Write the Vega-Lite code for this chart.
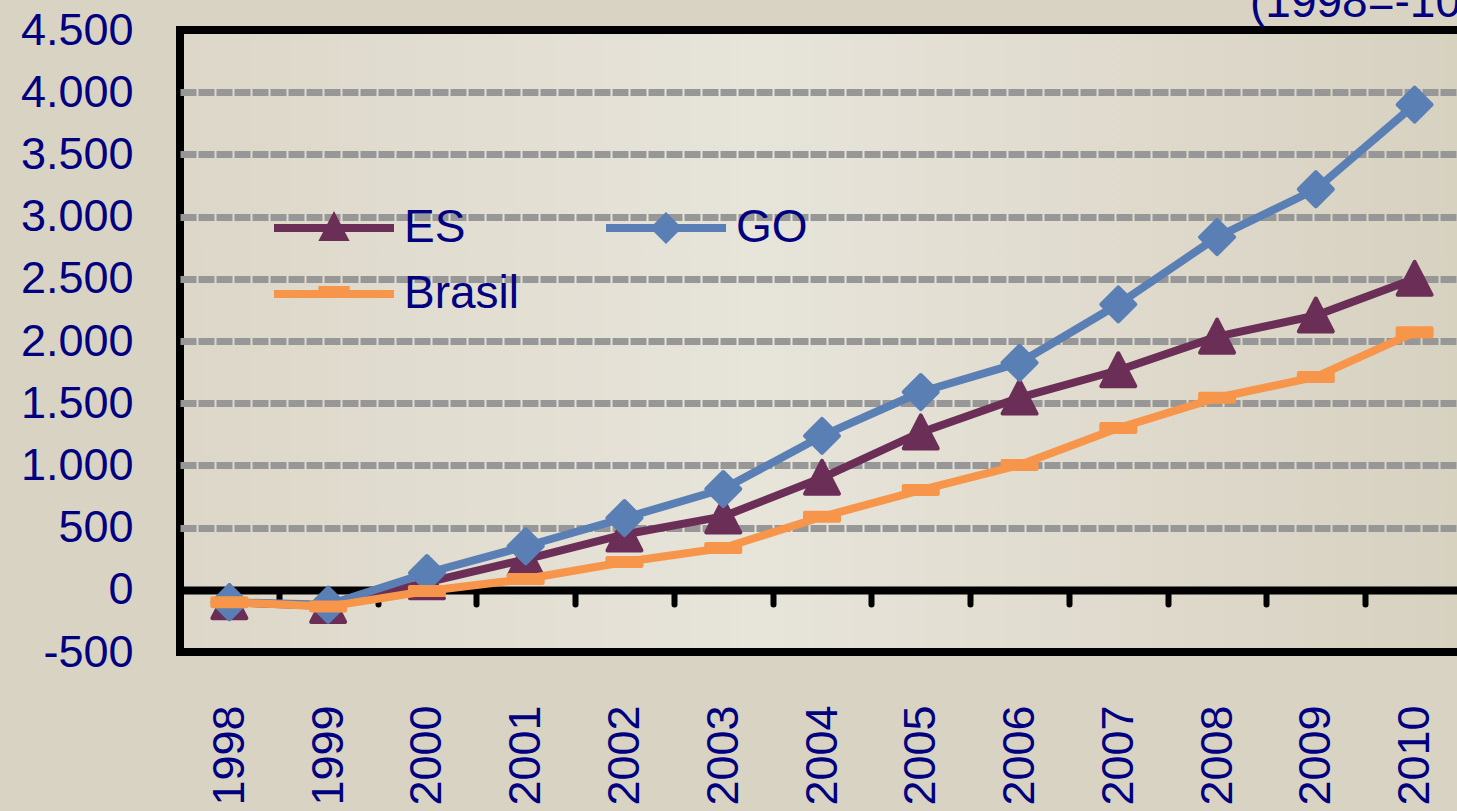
{
  "$schema": "https://vega.github.io/schema/vega-lite/v6.json",
  "width": 1284,
  "height": 622,
  "autosize": "none",
  "padding": {"left": 180, "top": 30, "right": 0, "bottom": 159},
  "background": "#D9D3C3",
  "title": {
    "text": "(1998=-100)",
    "anchor": "start",
    "frame": "group",
    "dx": 1070,
    "offset": -55,
    "baseline": "alphabetic",
    "fontSize": 46,
    "font": "Liberation Sans",
    "fontWeight": "normal",
    "color": "#000080"
  },
  "config": {
    "view": {
      "stroke": "#000000",
      "strokeWidth": 8,
      "fill": {
        "gradient": "linear",
        "x1": 0, "y1": 0, "x2": 1, "y2": 0,
        "stops": [
          {"offset": 0, "color": "#DCD7C8"},
          {"offset": 0.45, "color": "#E7E4DA"},
          {"offset": 1, "color": "#D7D1C0"}
        ]
      }
    }
  },
  "data": {
    "values": [
      {"ano": "1998", "serie": "ES", "valor": -100},
      {"ano": "1999", "serie": "ES", "valor": -130},
      {"ano": "2000", "serie": "ES", "valor": 60},
      {"ano": "2001", "serie": "ES", "valor": 245},
      {"ano": "2002", "serie": "ES", "valor": 445},
      {"ano": "2003", "serie": "ES", "valor": 590},
      {"ano": "2004", "serie": "ES", "valor": 900},
      {"ano": "2005", "serie": "ES", "valor": 1265},
      {"ano": "2006", "serie": "ES", "valor": 1545},
      {"ano": "2007", "serie": "ES", "valor": 1765},
      {"ano": "2008", "serie": "ES", "valor": 2035},
      {"ano": "2009", "serie": "ES", "valor": 2205},
      {"ano": "2010", "serie": "ES", "valor": 2500},
      {"ano": "1998", "serie": "GO", "valor": -100},
      {"ano": "1999", "serie": "GO", "valor": -120},
      {"ano": "2000", "serie": "GO", "valor": 135},
      {"ano": "2001", "serie": "GO", "valor": 350},
      {"ano": "2002", "serie": "GO", "valor": 577},
      {"ano": "2003", "serie": "GO", "valor": 810},
      {"ano": "2004", "serie": "GO", "valor": 1237},
      {"ano": "2005", "serie": "GO", "valor": 1590},
      {"ano": "2006", "serie": "GO", "valor": 1825},
      {"ano": "2007", "serie": "GO", "valor": 2295},
      {"ano": "2008", "serie": "GO", "valor": 2835},
      {"ano": "2009", "serie": "GO", "valor": 3220},
      {"ano": "2010", "serie": "GO", "valor": 3900},
      {"ano": "1998", "serie": "Brasil", "valor": -100},
      {"ano": "1999", "serie": "Brasil", "valor": -135},
      {"ano": "2000", "serie": "Brasil", "valor": -10},
      {"ano": "2001", "serie": "Brasil", "valor": 87},
      {"ano": "2002", "serie": "Brasil", "valor": 224},
      {"ano": "2003", "serie": "Brasil", "valor": 336},
      {"ano": "2004", "serie": "Brasil", "valor": 587},
      {"ano": "2005", "serie": "Brasil", "valor": 802},
      {"ano": "2006", "serie": "Brasil", "valor": 1003},
      {"ano": "2007", "serie": "Brasil", "valor": 1300},
      {"ano": "2008", "serie": "Brasil", "valor": 1544},
      {"ano": "2009", "serie": "Brasil", "valor": 1711},
      {"ano": "2010", "serie": "Brasil", "valor": 2070}
    ]
  },
  "encoding": {
    "x": {
      "field": "ano",
      "type": "ordinal",
      "bandPosition": 0.5,
      "scale": {"type": "band", "paddingInner": 0, "paddingOuter": 0},
      "axis": {
        "title": null,
        "offset": -62,
        "domainColor": "#000000",
        "domainWidth": 8,
        "ticks": true,
        "tickBand": "extent",
        "tickColor": "#000000",
        "tickWidth": 6,
        "tickSize": 14,
        "tickCap": "round",
        "labelAngle": 270,
        "labelPadding": 101,
        "labelFontSize": 45,
        "labelFont": "Liberation Sans",
        "labelColor": "#000080",
        "labelOverlap": false,
        "labelFlush": false,
        "labelBound": false,
        "grid": false
      }
    },
    "y": {
      "field": "valor",
      "type": "quantitative",
      "scale": {"domain": [-500, 4500], "nice": false, "zero": false},
      "axis": {
        "title": null,
        "values": [-500, 0, 500, 1000, 1500, 2000, 2500, 3000, 3500, 4000, 4500],
        "domain": false,
        "ticks": false,
        "grid": true,
        "gridColor": "#979797",
        "gridWidth": 7,
        "gridDash": [16, 2],
        "gridOpacity": {"condition": {"test": "datum.value == -500 || datum.value == 4500 || datum.value == 0", "value": 0}, "value": 1},
        "labelPadding": 47,
        "labelFontSize": 45,
        "labelFont": "Liberation Sans",
        "labelColor": "#000080",
        "labelExpr": "replace(replace(format(datum.value, ','), ',', '.'), '\u2212', '-')"
      }
    }
  },
  "layer": [
    {
      "transform": [{"filter": "datum.serie == 'ES'"}],
      "mark": {"type": "line", "stroke": "#6B2E57", "strokeWidth": 8, "strokeCap": "round", "strokeJoin": "round"},
      "encoding": {"detail": {"field": "serie", "type": "nominal"}}
    },
    {
      "transform": [{"filter": "datum.serie == 'ES'"}],
      "mark": {"type": "point", "shape": "M0,-0.85L0.85,0.8L-0.85,0.8Z", "size": 1600, "filled": true, "opacity": 1, "fill": "#6B2E57", "stroke": "#6B2E57", "strokeWidth": 4, "strokeJoin": "round"}
    },
    {
      "transform": [{"filter": "datum.serie == 'GO'"}],
      "mark": {"type": "line", "stroke": "#5A7FB5", "strokeWidth": 8, "strokeCap": "round", "strokeJoin": "round"},
      "encoding": {"detail": {"field": "serie", "type": "nominal"}}
    },
    {
      "transform": [{"filter": "datum.serie == 'GO'"}],
      "mark": {"type": "point", "shape": "M0,-0.85L0.85,0L0,0.85L-0.85,0Z", "size": 1600, "filled": true, "opacity": 1, "fill": "#5A7FB5", "stroke": "#5A7FB5", "strokeWidth": 4, "strokeJoin": "round"}
    },
    {
      "transform": [{"filter": "datum.serie == 'Brasil'"}],
      "mark": {"type": "line", "stroke": "#F7964A", "strokeWidth": 8, "strokeCap": "round", "strokeJoin": "round"},
      "encoding": {"detail": {"field": "serie", "type": "nominal"}}
    },
    {
      "transform": [{"filter": "datum.serie == 'Brasil'"}],
      "mark": {"type": "point", "shape": "M-0.85,-0.2L0.85,-0.2L0.85,0.2L-0.85,0.2Z", "size": 1600, "filled": true, "opacity": 1, "fill": "#F7964A", "stroke": "#F7964A", "strokeWidth": 4, "strokeJoin": "round"}
    },
    {
      "transform": [{"filter": "datum.valor > 100000"}],
      "mark": {"type": "point", "filled": true, "opacity": 1, "size": 1600},
      "encoding": {
        "color": {
          "field": "serie", "type": "nominal",
          "scale": {"domain": ["ES", "GO", "Brasil"], "range": ["#6B2E57", "#5A7FB5", "#F7964A"]},
          "legend": {
            "title": null, "orient": "none", "legendX": 171, "legendY": 175, "direction": "horizontal",
            "columns": 2, "columnPadding": 82, "rowPadding": 20, "padding": 0,
            "symbolSize": 1600, "symbolStrokeWidth": 2, "labelOffset": 7,
            "labelFontSize": 46, "labelFont": "Liberation Sans", "labelColor": "#000080", "labelLimit": 0,
            "symbolOpacity": 1
          }
        },
        "shape": {
          "field": "serie", "type": "nominal",
          "scale": {
            "domain": ["ES", "GO", "Brasil"],
            "range": [
              "M-5,-0.2L1,-0.2L1,0.2L-5,0.2Z M-2,-0.85L-1.22,0.65L-2.78,0.65Z",
              "M-5,-0.2L1,-0.2L1,0.2L-5,0.2Z M-2,-0.8L-1.2,0L-2,0.8L-2.8,0Z",
              "M-5,-0.2L1,-0.2L1,0.2L-5,0.2Z M-2.78,-0.4L-1.22,-0.4L-1.22,0.2L-2.78,0.2Z"
            ]
          },
          "legend": {
            "title": null, "orient": "none", "legendX": 171, "legendY": 175, "direction": "horizontal",
            "columns": 2, "columnPadding": 82, "rowPadding": 20, "padding": 0,
            "symbolSize": 1600, "symbolStrokeWidth": 2, "labelOffset": 7,
            "labelFontSize": 46, "labelFont": "Liberation Sans", "labelColor": "#000080", "labelLimit": 0,
            "symbolOpacity": 1
          }
        }
      }
    }
  ]
}
